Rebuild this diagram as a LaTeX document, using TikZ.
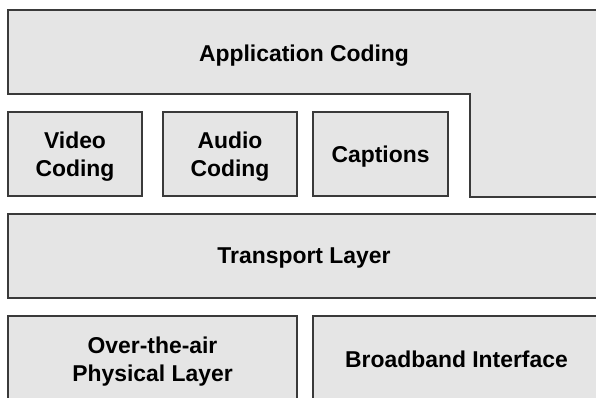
\documentclass[tikz,border=0pt]{standalone}
\usepackage{fontspec}
\setmainfont{Liberation Sans}
\definecolor{boxfill}{HTML}{E5E5E5}
\definecolor{boxline}{HTML}{3A3A3A}

\begin{document}
\begin{tikzpicture}[x=1pt,y=1pt]
\tikzset{
  layer/.style={draw=boxline, fill=boxfill, line width=1.5pt, inner sep=0pt,
    text depth=0pt, align=center, font=\bfseries\fontsize{22.9}{27.5}\selectfont},
  label/.style={inner sep=0pt, text depth=0pt, align=center,
    font=\bfseries\fontsize{22.9}{27.5}\selectfont}
}
\useasboundingbox (0,0) rectangle (596,-398);
\fill [white] (0,0) rectangle (596,-398);
% application coding (L shape)
\draw [draw=boxline, fill=boxfill, line width=1.5pt] (8,-10) -- (600,-10) -- (600,-197) -- (470,-197) -- (470,-94) -- (8,-94) -- cycle;
\node [label] (app) at (304,-53) {Application Coding};
% coding boxes
\node [layer, minimum width=134pt, minimum height=84pt] (video) at (75,-154) {Video\\Coding};
\node [layer, minimum width=134pt, minimum height=84pt] (audio) at (230,-154) {Audio\\Coding};
\node [layer, minimum width=135pt, minimum height=84pt] (captions) at (380.5,-154) {Captions};
% transport
\node [layer, minimum width=592pt, minimum height=84pt] (transport) at (304,-256) {Transport Layer};
% physical
\node [layer, minimum width=289pt, minimum height=86pt] (ota) at (152.5,-359) {Over-the-air\\Physical Layer};
\node [layer, minimum width=287pt, minimum height=86pt] (broadband) at (456.5,-359) {Broadband Interface};
\end{tikzpicture}
\end{document}
